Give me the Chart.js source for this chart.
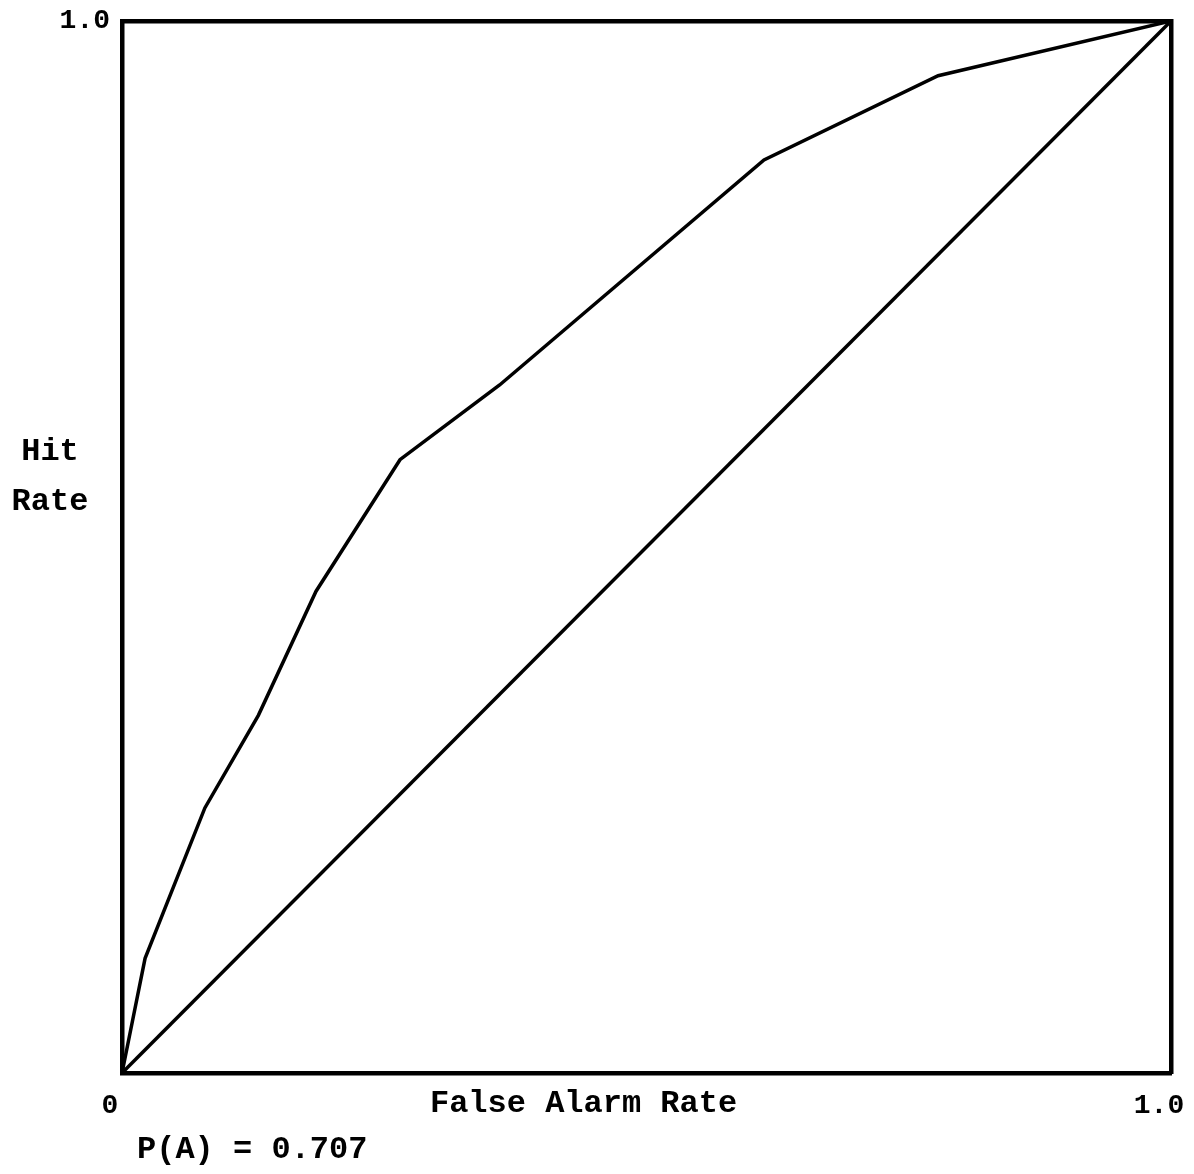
<!DOCTYPE html>
<html>
<head>
<meta charset="utf-8">
<script src="https://cdn.jsdelivr.net/npm/chart.js@4.4.1/dist/chart.umd.min.js"></script>
<style>
  html, body { margin: 0; padding: 0; background: #fff; }
  #wrap { width: 1194px; height: 1174px; }
</style>
</head>
<body>
<div id="wrap"><canvas id="roc"></canvas></div>
<script>
// ROC curve
const falseAlarm = [0, 0.022, 0.079, 0.130, 0.185, 0.265, 0.360, 0.612, 0.778, 1.0];
const hitRate    = [0, 0.109, 0.252, 0.340, 0.458, 0.583, 0.654, 0.868, 0.948, 1.0];

// chance line
const chanceX = [0, 1];
const chanceY = [0, 1];

const xTicks = [0, 1];
const xTickLabels = ["0", "1.0"];
const yTicks = [1];
const yTickLabels = ["1.0"];

const FONT = "'Liberation Mono', 'Courier New', monospace";

function pts(xs, ys) {
  return xs.map((x, i) => ({ x: x, y: ys[i] }));
}

// extra labels that sit beside the axes
const labelsPlugin = {
  id: "labels",
  afterDraw(chart) {
    const ctx = chart.ctx;
    const xs = chart.scales.x;
    ctx.save();
    ctx.fillStyle = "#000";
    ctx.textBaseline = "middle";
    ctx.font = "bold 32px " + FONT;
    ctx.textAlign = "center";
    ctx.fillText("False Alarm Rate", xs.getPixelForValue(0.44), 1104);
    ctx.fillText("Hit", 50, 452);
    ctx.fillText("Rate", 50, 502);
    ctx.textAlign = "left";
    ctx.fillText("P(A) = 0.707", 137, 1150);
    ctx.restore();
  }
};

const edge = { display: true, color: "#000", width: 4.5 };

new Chart(document.getElementById("roc"), {
  type: "scatter",
  data: {
    datasets: [
      {
        label: "ROC",
        data: pts(falseAlarm, hitRate),
        showLine: true,
        borderColor: "#000",
        borderWidth: 3.5,
        pointRadius: 0,
        tension: 0
      },
      {
        label: "Chance",
        data: pts(chanceX, chanceY),
        showLine: true,
        borderColor: "#000",
        borderWidth: 3.5,
        pointRadius: 0
      }
    ]
  },
  options: {
    responsive: true,
    maintainAspectRatio: false,
    animation: false,
    layout: { padding: { top: 21, right: 23, left: 0, bottom: 0 } },
    plugins: { legend: { display: false }, tooltip: { enabled: false } },
    scales: {
      x: {
        type: "linear", min: 0, max: 1,
        grid: { display: false },
        border: edge,
        afterBuildTicks: s => { s.ticks = xTicks.map(v => ({ value: v })); },
        afterFit: s => { s.height = 101; s.paddingLeft = 0; s.paddingRight = 0; },
        ticks: {
          color: "#000", padding: 8, labelOffset: -12, maxRotation: 0,
          font: { family: FONT, size: 28, weight: "bold" },
          callback: v => xTickLabels[xTicks.indexOf(v)]
        }
      },
      y: {
        type: "linear", min: 0, max: 1,
        grid: { display: false },
        border: edge,
        afterBuildTicks: s => { s.ticks = yTicks.map(v => ({ value: v })); },
        afterFit: s => { s.width = 122; s.paddingTop = 0; s.paddingBottom = 0; },
        ticks: {
          color: "#000", padding: 4,
          font: { family: FONT, size: 28, weight: "bold" },
          callback: v => yTickLabels[yTicks.indexOf(v)]
        }
      },
      x2: {
        type: "linear", position: "top", min: 0, max: 1,
        grid: { display: false }, border: edge,
        ticks: { display: false },
        afterFit: s => { s.height = 0; s.paddingLeft = 0; s.paddingRight = 0; }
      },
      y2: {
        type: "linear", position: "right", min: 0, max: 1,
        grid: { display: false }, border: edge,
        ticks: { display: false },
        afterFit: s => { s.width = 0; s.paddingTop = 0; s.paddingBottom = 0; }
      }
    }
  },
  plugins: [labelsPlugin]
});
</script>
</body>
</html>
